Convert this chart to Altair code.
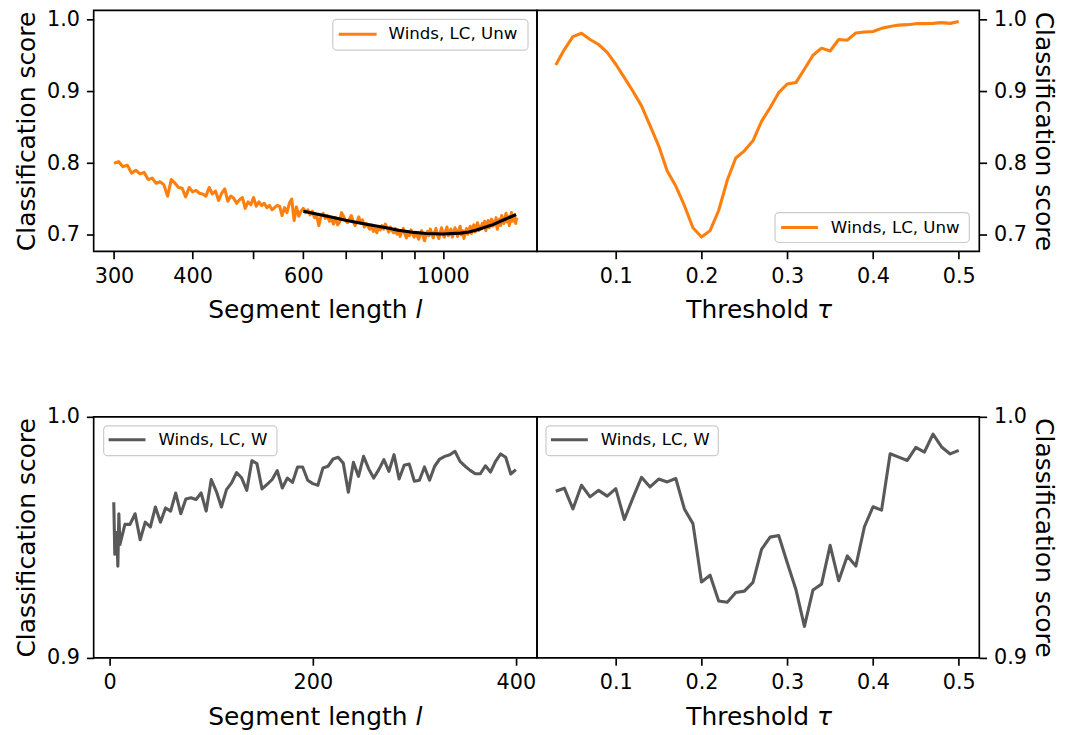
import altair as alt
import pandas as pd

ORANGE = "#ff7f0e"
GRAY = "#595959"
FONT = "DejaVu Sans"

# ---------------- data ----------------
# Top-left: segment length l (log axis) vs classification score, unweighted
seg_len_unw = list(range(300, 1311, 5))
score_unw_seg = [
    0.7996, 0.802, 0.795, 0.797, 0.786, 0.790, 0.785, 0.787, 0.777, 0.779,
    0.772, 0.774, 0.770, 0.754, 0.777, 0.772, 0.766, 0.765, 0.753, 0.766,
    0.760, 0.762, 0.758, 0.757, 0.754, 0.766, 0.757, 0.761, 0.748, 0.758,
    0.764, 0.747, 0.754, 0.751, 0.744, 0.749, 0.752, 0.737, 0.746, 0.742,
    0.752, 0.740, 0.746, 0.741, 0.744, 0.738, 0.741, 0.735, 0.738, 0.741,
    0.740, 0.727, 0.738, 0.731, 0.744, 0.750, 0.720, 0.739, 0.726, 0.733,
    0.737, 0.731, 0.735, 0.728, 0.733, 0.724, 0.727, 0.713, 0.726, 0.730,
    0.723, 0.727, 0.719, 0.722, 0.715, 0.724, 0.714, 0.718, 0.731, 0.726,
    0.720, 0.717, 0.722, 0.727, 0.719, 0.713, 0.718, 0.725, 0.716, 0.721,
    0.711, 0.716, 0.712, 0.708, 0.714, 0.705, 0.709, 0.703, 0.711, 0.707,
    0.713, 0.708, 0.715, 0.710, 0.704, 0.711, 0.706, 0.703, 0.709, 0.701,
    0.707, 0.698, 0.705, 0.709, 0.701, 0.696, 0.704, 0.699, 0.707, 0.702,
    0.697, 0.703, 0.699, 0.694, 0.701, 0.706, 0.698, 0.692, 0.700, 0.705,
    0.699, 0.708, 0.702, 0.696, 0.704, 0.709, 0.700, 0.695, 0.703, 0.710,
    0.701, 0.697, 0.706, 0.711, 0.699, 0.704, 0.708, 0.697, 0.702, 0.710,
    0.705, 0.698, 0.707, 0.712, 0.700, 0.706, 0.695, 0.703, 0.709, 0.701,
    0.707, 0.712, 0.702, 0.709, 0.714, 0.704, 0.710, 0.717, 0.706, 0.712,
    0.708, 0.716, 0.711, 0.719, 0.706, 0.714, 0.720, 0.710, 0.717, 0.722,
    0.712, 0.719, 0.714, 0.724, 0.708, 0.717, 0.722, 0.713, 0.727, 0.719,
    0.716, 0.724, 0.730, 0.718, 0.726, 0.713, 0.721, 0.731, 0.719, 0.725,
    0.728, 0.716, 0.724,
]
fit_len = [600, 667, 700, 752, 800, 821, 849, 900, 941, 1000, 1067, 1100, 1131, 1201, 1258, 1307]
fit_score = [0.7330, 0.7245, 0.7205, 0.7153, 0.7110, 0.7093, 0.7065, 0.7035, 0.7020, 0.7012,
             0.7025, 0.7042, 0.7069, 0.7143, 0.7222, 0.7282]

# Threshold tau grid (both right panels)
tau = [round(0.03 + 0.01 * i, 2) for i in range(48)]
score_unw_tau = [
    0.9366, 0.958, 0.976, 0.9806, 0.972, 0.965, 0.954, 0.9375, 0.919, 0.900,
    0.8796, 0.852, 0.824, 0.789, 0.768, 0.741, 0.710, 0.697, 0.706, 0.734,
    0.776, 0.807, 0.817, 0.831, 0.858, 0.877, 0.898, 0.910, 0.912, 0.9306,
    0.950, 0.960, 0.956, 0.972, 0.971, 0.981, 0.9824, 0.983, 0.9875, 0.990,
    0.992, 0.9926, 0.994, 0.994, 0.9944, 0.9954, 0.9944, 0.997,
]
score_w_tau = [
    0.9691, 0.9704, 0.9618, 0.9716, 0.9668, 0.9695, 0.9671, 0.9702, 0.9574, 0.9664,
    0.9749, 0.9709, 0.9742, 0.9730, 0.9744, 0.9618, 0.9557, 0.9315, 0.9343, 0.9236,
    0.9231, 0.9271, 0.9277, 0.9313, 0.9450, 0.9501, 0.9508, 0.9395, 0.9285, 0.9131,
    0.9282, 0.9306, 0.9467, 0.9320, 0.9423, 0.9381, 0.9544, 0.9627, 0.9613, 0.9847,
    0.9833, 0.9819, 0.9873, 0.9854, 0.9928, 0.9875, 0.9846, 0.9861,
]

# Bottom-left: segment length l (linear) vs score, weighted
seg_len_w = [4, 5, 6, 7, 8, 9, 10] + list(range(15, 401, 5))
score_w_seg = [
    0.9646, 0.9430, 0.9455, 0.9520, 0.9380, 0.9598, 0.9470,
    0.9554, 0.9554, 0.9598, 0.9490, 0.9563, 0.9543, 0.9626, 0.9563, 0.9622, 0.9609,
    0.9684, 0.9598, 0.9659, 0.9664, 0.9657, 0.9684, 0.9609, 0.9740, 0.9691, 0.9626,
    0.9698, 0.9726, 0.9769, 0.9746, 0.9695, 0.9818, 0.9806, 0.9701, 0.9720, 0.9740,
    0.9777, 0.9705, 0.9746, 0.9728, 0.9792, 0.9792, 0.9737, 0.9723, 0.9716, 0.9788,
    0.9795, 0.9825, 0.9832, 0.9808, 0.9687, 0.9811, 0.9753, 0.9836, 0.9785, 0.9746,
    0.9781, 0.9822, 0.9774, 0.9843, 0.9742, 0.9799, 0.9804, 0.9733, 0.9737, 0.9792,
    0.9737, 0.9795, 0.9825, 0.9836, 0.9843, 0.9857, 0.9815, 0.9795, 0.9778, 0.9764,
    0.9764, 0.9797, 0.9771, 0.9815, 0.9846, 0.9832, 0.9763, 0.9781,
]

label_unw = "Winds, LC, Unw"
label_w = "Winds, LC, W"
xtitle_seg = ("Segment length", "l")
xtitle_tau = ("Threshold", "τ")
ytitle = "Classification score"

# ---------------- layout constants ----------------
WL, WR, H = 445, 444, 242
TITLE_FS = 25
XTITLE_Y = H + 67
one = pd.DataFrame({"k": [0]})


def legend_box(x0, x1, y0, y1, sx0, sx1, sy, tx, label, color):
    box = alt.Chart(one).mark_rect(
        fill="white", fillOpacity=0.8, stroke="#cccccc", strokeWidth=1.2, cornerRadius=4
    ).encode(x=alt.value(x0), x2=alt.value(x1), y=alt.value(y0), y2=alt.value(y1))
    sym = alt.Chart(one).mark_rule(color=color, strokeWidth=3.1).encode(
        x=alt.value(sx0), x2=alt.value(sx1), y=alt.value(sy)
    )
    txt = alt.Chart(one).mark_text(
        text=label, align="left", baseline="middle", fontSize=16.7, font=FONT, color="black"
    ).encode(x=alt.value(tx), y=alt.value(sy))
    return [box, sym, txt]


def x_title(parts, x_split, gap):
    main, ital = parts
    t1 = alt.Chart(one).mark_text(
        text=main, align="right", baseline="alphabetic", fontSize=TITLE_FS, font=FONT, color="black"
    ).encode(x=alt.value(x_split), y=alt.value(XTITLE_Y))
    t2 = alt.Chart(one).mark_text(
        text=ital, align="left", baseline="alphabetic", fontSize=TITLE_FS, font=FONT,
        fontStyle="italic", color="black"
    ).encode(x=alt.value(x_split + gap), y=alt.value(XTITLE_Y))
    return [t1, t2]


y_top = alt.Scale(domain=[0.677, 1.0125], nice=False, zero=False)
y_bot = alt.Scale(domain=[0.9, 1.0], nice=False, zero=False)
x_tau = alt.Scale(domain=[0.0081, 0.5240], nice=False, zero=False)
x_log = alt.Scale(type="log", domain=[278.5, 1411], nice=False)
x_lin = alt.Scale(domain=[-15.8, 420.8], nice=False, zero=False)

ax_tau = alt.Axis(values=[0.1, 0.2, 0.3, 0.4, 0.5], format=".1f", title=None,
                  labelFlush=False, labelOverlap=False)

# ---- top-left ----
df_tl = pd.DataFrame({"l": seg_len_unw, "score": score_unw_seg})
df_fit = pd.DataFrame({"l": fit_len, "score": fit_score})
tl_line = alt.Chart(df_tl).mark_line(color=ORANGE, strokeWidth=3.1, strokeJoin="round").encode(
    x=alt.X("l:Q", scale=x_log, axis=alt.Axis(
        values=[300, 400, 500, 600, 700, 800, 900, 1000],
        labelExpr="indexof([300, 400, 600, 1000], datum.value) >= 0 ? format(datum.value, 'd') : ''",
        title=None, labelFlush=False, labelOverlap=False)),
    y=alt.Y("score:Q", scale=y_top, axis=alt.Axis(
        values=[0.7, 0.8, 0.9, 1.0], format=".1f", orient="left", title=ytitle)),
)
tl_fit = alt.Chart(df_fit).mark_line(color="black", strokeWidth=3.1).encode(
    x=alt.X("l:Q", scale=x_log), y=alt.Y("score:Q", scale=y_top)
)
top_left = alt.layer(
    tl_line, tl_fit,
    *legend_box(240, 436, 9, 40, 246, 284, 24, 296, label_unw, ORANGE),
    *x_title(xtitle_seg, 315, 8),
).properties(width=WL, height=H)

# ---- top-right ----
df_tr = pd.DataFrame({"tau": tau, "score": score_unw_tau})
tr_line = alt.Chart(df_tr).mark_line(color=ORANGE, strokeWidth=3.1, strokeJoin="round").encode(
    x=alt.X("tau:Q", scale=x_tau, axis=ax_tau),
    y=alt.Y("score:Q", scale=y_top, axis=alt.Axis(
        values=[0.7, 0.8, 0.9, 1.0], format=".1f", orient="right", title=ytitle,
        titlePadding=4)),
)
top_right = alt.layer(
    tr_line,
    *legend_box(239, 434, 203, 233, 245, 282, 218, 295, label_unw, ORANGE),
    *x_title(xtitle_tau, 273, 8),
).properties(width=WR, height=H)

# ---- bottom-left ----
df_bl = pd.DataFrame({"l": seg_len_w, "score": score_w_seg})
bl_line = alt.Chart(df_bl).mark_line(color=GRAY, strokeWidth=3.1, strokeJoin="round").encode(
    x=alt.X("l:Q", scale=x_lin, axis=alt.Axis(values=[0, 200, 400], title=None,
                                               labelFlush=False, labelOverlap=False)),
    y=alt.Y("score:Q", scale=y_bot, axis=alt.Axis(
        values=[0.9, 1.0], format=".1f", orient="left", title=ytitle)),
)
bottom_left = alt.layer(
    bl_line,
    *legend_box(10, 184, 9, 39, 15, 52, 23, 65, label_w, GRAY),
    *x_title(xtitle_seg, 315, 8),
).properties(width=WL, height=H)

# ---- bottom-right ----
df_br = pd.DataFrame({"tau": tau, "score": score_w_tau})
br_line = alt.Chart(df_br).mark_line(color=GRAY, strokeWidth=3.1, strokeJoin="round").encode(
    x=alt.X("tau:Q", scale=x_tau, axis=ax_tau),
    y=alt.Y("score:Q", scale=y_bot, axis=alt.Axis(
        values=[0.9, 1.0], format=".1f", orient="right", title=ytitle,
        titlePadding=4)),
)
bottom_right = alt.layer(
    br_line,
    *legend_box(9, 182, 9, 39, 14, 51, 23, 64, label_w, GRAY),
    *x_title(xtitle_tau, 273, 8),
).properties(width=WR, height=H)

chart = alt.concat(
    top_left, top_right, bottom_left, bottom_right,
    columns=2, spacing={"row": 166, "column": 0}, bounds="flush",
).resolve_scale(
    x="independent", y="independent"
).properties(
    padding={"left": 5, "top": -2, "right": 4, "bottom": 0}
).configure(font=FONT).configure_view(
    stroke="black", strokeWidth=1.67
).configure_axis(
    grid=False, domain=False, tickColor="black", tickWidth=1.67, tickSize=7.3,
    labelFontSize=20.8, labelColor="black", labelPadding=7, labelFont=FONT,
    titleFontSize=TITLE_FS, titleFontWeight="normal", titleColor="black", titlePadding=7,
    titleFont=FONT,
).configure_axisX(labelPadding=7.5)

chart.save("out.html", embed_options={"renderer": "svg", "actions": False})
